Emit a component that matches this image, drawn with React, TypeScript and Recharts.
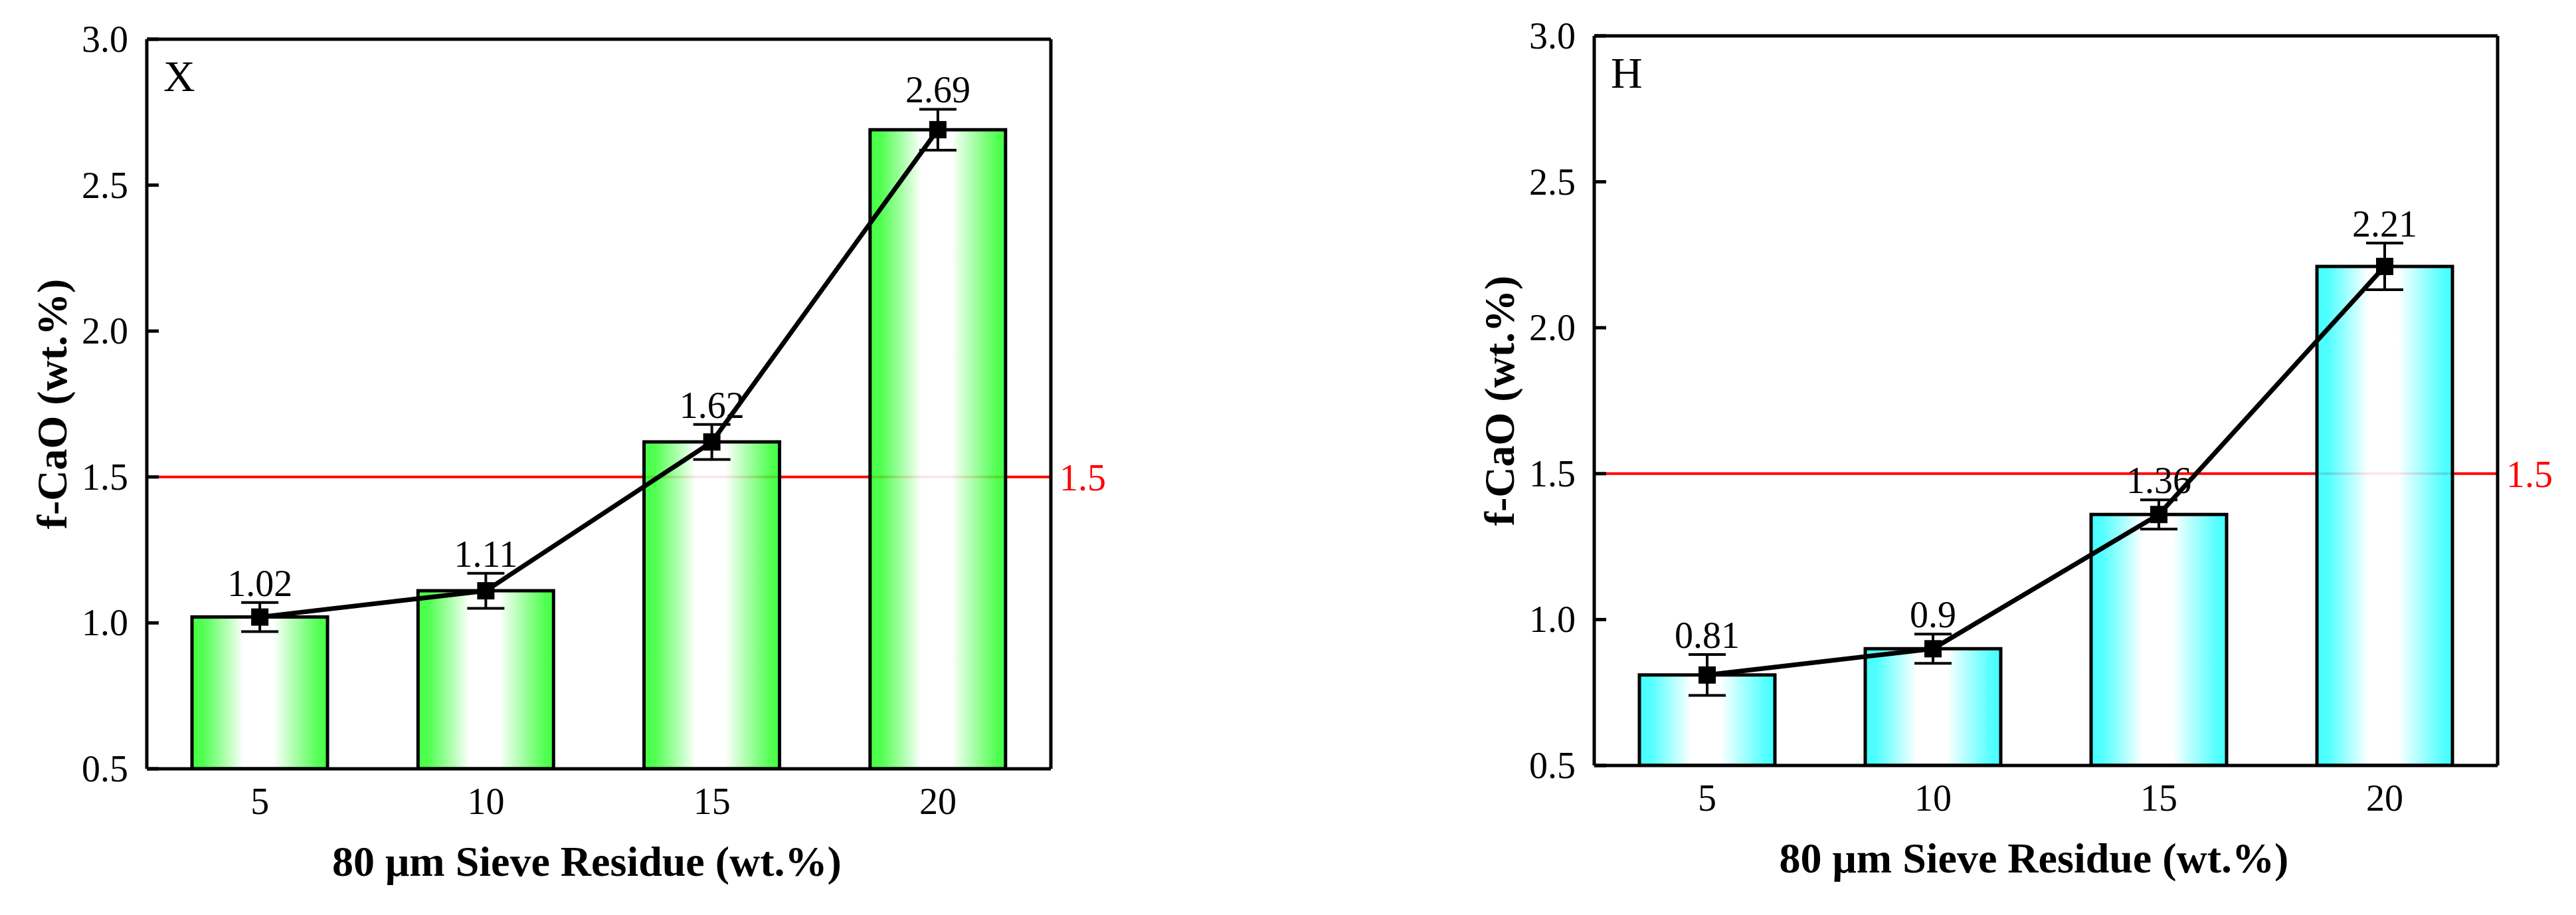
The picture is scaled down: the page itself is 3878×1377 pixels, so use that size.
import {
  Bar,
  ComposedChart,
  ErrorBar,
  LabelList,
  Line,
  ReferenceLine,
  XAxis,
  YAxis,
} from "recharts";

const sieve = ["5", "10", "15", "20"];
const xValues = [1.02, 1.11, 1.62, 2.69];
const xErrors = [0.05, 0.06, 0.06, 0.07];
const hValues = [0.81, 0.9, 1.36, 2.21];
const hErrors = [0.07, 0.05, 0.05, 0.08];
const yTicks = [0.5, 1.0, 1.5, 2.0, 2.5, 3.0];
const limit = 1.5;

const FONT = "'Liberation Serif', 'Times New Roman', serif";

function YTick({ x, y, payload }: any) {
  // x is the label anchor; the axis line sits tickMargin (28) to its right
  return (
    <g>
      <line x1={x + 28} x2={x + 46} y1={y} y2={y} stroke="#000" strokeWidth={5} />
      <text
        x={x}
        y={y}
        textAnchor="end"
        dominantBaseline="central"
        fontSize={56}
        fontFamily={FONT}
        fill="#000"
      >
        {Number(payload.value).toFixed(1)}
      </text>
    </g>
  );
}

function YTitle({ viewBox }: any) {
  const cx = viewBox.x + viewBox.width - 143;
  const cy = viewBox.y + viewBox.height / 2;
  return (
    <text
      x={cx}
      y={cy}
      transform={`rotate(-90 ${cx} ${cy})`}
      textAnchor="middle"
      dominantBaseline="central"
      fontSize={64}
      fontWeight="bold"
      fontFamily={FONT}
      fill="#000"
    >
      f-CaO (wt.%)
    </text>
  );
}

function XTitle({ viewBox }: any) {
  return (
    <text
      x={viewBox.x + viewBox.width / 2 - 18}
      y={viewBox.y + 161}
      textAnchor="middle"
      fontSize={64}
      fontWeight="bold"
      fontFamily={FONT}
      fill="#000"
    >
      80 μm Sieve Residue (wt.%)
    </text>
  );
}

function PanelTag({ viewBox, name }: any) {
  return (
    <text x={viewBox.x + 25} y={viewBox.y + viewBox.height + 78} fontSize={66} fontFamily={FONT} fill="#000">
      {name}
    </text>
  );
}

type PanelProps = {
  name: string;
  values: number[];
  errors: number[];
  color: string;
  left: number;
  width: number;
  top: number;
  axisHeight: number;
  right: number;
};

function Panel({ name, values, errors, color, left, width, top, axisHeight, right }: PanelProps) {
  const data = sieve.map((s, i) => ({
    x: s,
    v: values[i],
    e: errors[i],
    top: values[i] + errors[i],
  }));
  const gid = `grad${name}`;
  return (
    <div style={{ position: "absolute", left, top: 0 }}>
      <ComposedChart
        width={width}
        height={1377}
        data={data}
        margin={{ top: top - 1, right: right - 1, bottom: 0, left: 0 }}
        barCategoryGap="20%"
      >
        <defs>
          <linearGradient id={gid} x1="0" y1="0" x2="1" y2="0">
            <stop offset="0" stopColor={color} />
            <stop offset="0.08" stopColor={color} stopOpacity={0.95} />
            <stop offset="0.38" stopColor="#ffffff" />
            <stop offset="0.6" stopColor="#ffffff" />
            <stop offset="0.94" stopColor={color} stopOpacity={0.95} />
            <stop offset="1" stopColor={color} />
          </linearGradient>
        </defs>
        <XAxis
          dataKey="x"
          height={axisHeight}
          tickLine={false}
          tickSize={0}
          tickMargin={28}
          axisLine={{ stroke: "#000", strokeWidth: 5 }}
          tick={{ fontSize: 56, fill: "#000", fontFamily: FONT }}
          label={<XTitle />}
        />
        <XAxis
          xAxisId="top"
          dataKey="x"
          orientation="top"
          height={1}
          tick={false}
          tickLine={false}
          axisLine={{ stroke: "#000", strokeWidth: 5 }}
          label={<PanelTag name={name} />}
        />
        <YAxis
          width={221}
          domain={[0.5, 3]}
          ticks={yTicks}
          tickLine={false}
          tickSize={0}
          tickMargin={28}
          allowDataOverflow
          axisLine={{ stroke: "#000", strokeWidth: 5 }}
          tick={<YTick />}
          label={<YTitle />}
        />
        <YAxis
          yAxisId="right"
          orientation="right"
          width={1}
          domain={[0.5, 3]}
          ticks={yTicks}
          tick={false}
          tickLine={false}
          allowDataOverflow
          axisLine={{ stroke: "#000", strokeWidth: 5 }}
        />
        <ReferenceLine
          y={limit}
          stroke="#ff0000"
          strokeWidth={4}
          zIndex={100}
          label={{
            value: "1.5",
            position: "right",
            offset: 13,
            fill: "#ff0000",
            fontSize: 56,
            fontFamily: FONT,
          }}
        />
        <Bar
          dataKey="v"
          fill={`url(#${gid})`}
          fillOpacity={0.9}
          stroke="#000"
          strokeWidth={5}
          isAnimationActive={false}
        />
        <Line
          dataKey="v"
          stroke="#000"
          strokeWidth={7}
          isAnimationActive={false}
          activeDot={false}
          dot={(p: any) => (
            <rect key={`d${p.index}`} x={p.cx - 13} y={p.cy - 13} width={26} height={26} fill="#000" />
          )}
        >
          <ErrorBar dataKey="e" width={28} stroke="#000" strokeWidth={4} direction="y" />
        </Line>
        <Line
          dataKey="top"
          xAxisId="top"
          yAxisId="right"
          stroke="none"
          dot={false}
          activeDot={false}
          isAnimationActive={false}
        >
          <LabelList
            dataKey="v"
            position="top"
            offset={10}
            fill="#000"
            fontSize={56}
            fontFamily={FONT}
          />
        </Line>
      </ComposedChart>
    </div>
  );
}

export default function App() {
  return (
    <div
      style={{
        position: "absolute",
        left: 0,
        top: 0,
        width: 3878,
        height: 1377,
        background: "#fff",
        overflow: "hidden",
      }}
    >
      <Panel
        name="X"
        values={xValues}
        errors={xErrors}
        color="#33ff33"
        left={0}
        width={1900}
        top={59}
        axisHeight={220}
        right={318}
      />
      <Panel
        name="H"
        values={hValues}
        errors={hErrors}
        color="#33ffff"
        left={2179}
        width={1699}
        top={54}
        axisHeight={225}
        right={118}
      />
    </div>
  );
}
